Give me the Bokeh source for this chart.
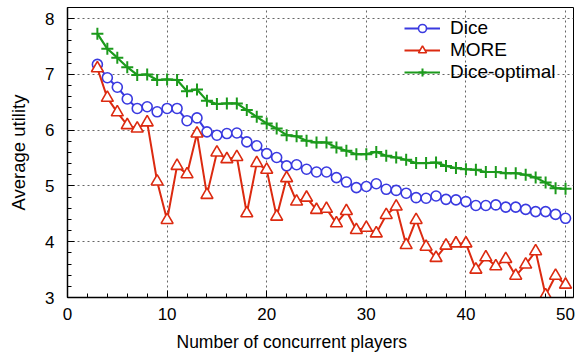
from bokeh.plotting import figure
from bokeh.models import Range1d, SingleIntervalTicker, ColumnDataSource, Title
from bokeh.embed import file_html
from bokeh.resources import INLINE

players = list(range(3, 51))
dice = [7.18, 6.94, 6.77, 6.56, 6.39, 6.42, 6.33, 6.39, 6.39, 6.17, 6.22, 5.97, 5.91, 5.94, 5.95,
        5.79, 5.72, 5.58, 5.51, 5.36, 5.38, 5.30, 5.25, 5.25, 5.15, 5.07, 4.97, 4.99, 5.04, 4.94,
        4.92, 4.87, 4.79, 4.78, 4.82, 4.76, 4.75, 4.72, 4.65, 4.65, 4.66, 4.62, 4.62, 4.58, 4.54,
        4.54, 4.49, 4.42]
more = [7.11, 6.58, 6.32, 6.09, 6.03, 6.14, 5.08, 4.39, 5.36, 5.21, 5.94, 4.84, 5.60, 5.48, 5.52,
        4.51, 5.41, 5.29, 4.45, 5.14, 4.72, 4.79, 4.57, 4.59, 4.33, 4.55, 4.21, 4.25, 4.15, 4.48,
        4.63, 3.94, 4.39, 3.91, 3.71, 3.93, 3.97, 3.97, 3.50, 3.72, 3.56, 3.69, 3.39, 3.59, 3.83,
        3.04, 3.39, 3.23]
dice_opt = [7.73, 7.46, 7.30, 7.13, 6.99, 7.00, 6.90, 6.91, 6.90, 6.70, 6.73, 6.53, 6.47, 6.48, 6.48,
            6.36, 6.24, 6.12, 6.03, 5.91, 5.89, 5.81, 5.78, 5.78, 5.69, 5.63, 5.57, 5.57, 5.61, 5.54,
            5.51, 5.47, 5.41, 5.41, 5.42, 5.36, 5.32, 5.30, 5.29, 5.25, 5.25, 5.23, 5.23, 5.20, 5.15,
            5.06, 4.96, 4.95]
series_names = ["Dice", "MORE", "Dice-optimal"]

FONT = "Liberation Sans"
BLUE = "#3a3ae0"
RED = "#dc2a10"
GREEN = "#1c9a1c"

src = ColumnDataSource(dict(x=players, dice=dice, more=more, opt=dice_opt))

p = figure(frame_width=506, frame_height=290,
           x_range=Range1d(0, 50.8), y_range=Range1d(3, 8.2),
           min_border_left=67, min_border_right=3, min_border_top=7, min_border_bottom=55,
           output_backend="svg", toolbar_location=None)

p.outline_line_color = "black"
p.outline_line_width = 1
p.background_fill_color = "white"
p.border_fill_color = "white"

p.xaxis.ticker = SingleIntervalTicker(interval=10, num_minor_ticks=5)
p.yaxis.ticker = SingleIntervalTicker(interval=1, num_minor_ticks=5)
for ax in (p.xaxis[0], p.yaxis[0]):
    ax.axis_line_color = "black"
    ax.axis_line_width = 1.5
    ax.major_tick_in = 7
    ax.major_tick_out = 0
    ax.minor_tick_in = 4
    ax.minor_tick_out = 0
    ax.major_tick_line_color = "black"
    ax.minor_tick_line_color = "black"
    ax.major_label_text_font = FONT
    ax.major_label_text_font_size = "17px"
    ax.major_label_text_color = "black"
    ax.axis_label_text_font = FONT
    ax.axis_label_text_font_style = "normal"
    ax.axis_label_text_color = "black"

p.xaxis.major_label_standoff = 10
p.yaxis.axis_label = "Average utility"
p.yaxis.axis_label_text_font_size = "18.5px"
p.yaxis.major_label_standoff = 13
p.yaxis.axis_label_standoff = 13

xlabel = Title(text="Number of concurrent players", align="left", offset=109,
               text_font=FONT, text_font_size="17.5px", text_font_style="normal",
               text_color="black", standoff=15)
p.add_layout(xlabel, "below")

for g in (p.xgrid[0], p.ygrid[0]):
    g.grid_line_color = "#666666"
    g.grid_line_dash = "2 3"
    g.grid_line_width = 1

p.line("x", "dice", source=src, color=BLUE, line_width=2, legend_label=series_names[0])
p.scatter("x", "dice", source=src, marker="circle", size=10, line_color=BLUE, line_width=1.6,
          fill_color="white", legend_label=series_names[0])
p.line("x", "more", source=src, color=RED, line_width=2, legend_label=series_names[1])
p.scatter("x", "more", source=src, marker="triangle", size=12, line_color=RED, line_width=1.6,
          fill_color="white", legend_label=series_names[1])
p.line("x", "opt", source=src, color=GREEN, line_width=2.2, legend_label=series_names[2])
p.scatter("x", "opt", source=src, marker="cross", size=12, line_color=GREEN, line_width=2,
          legend_label=series_names[2])

lg = p.legend[0]
lg.location = "top_right"
lg.margin = 0
lg.padding = 10
lg.spacing = 0
lg.glyph_width = 36
lg.glyph_height = 20
lg.label_height = 20
lg.label_width = 113
lg.label_standoff = 10
lg.label_text_font = FONT
lg.label_text_font_size = "19px"
lg.label_text_color = "black"
lg.background_fill_alpha = 0
lg.border_line_alpha = 0

open("out.html", "w").write(file_html(p, INLINE))
